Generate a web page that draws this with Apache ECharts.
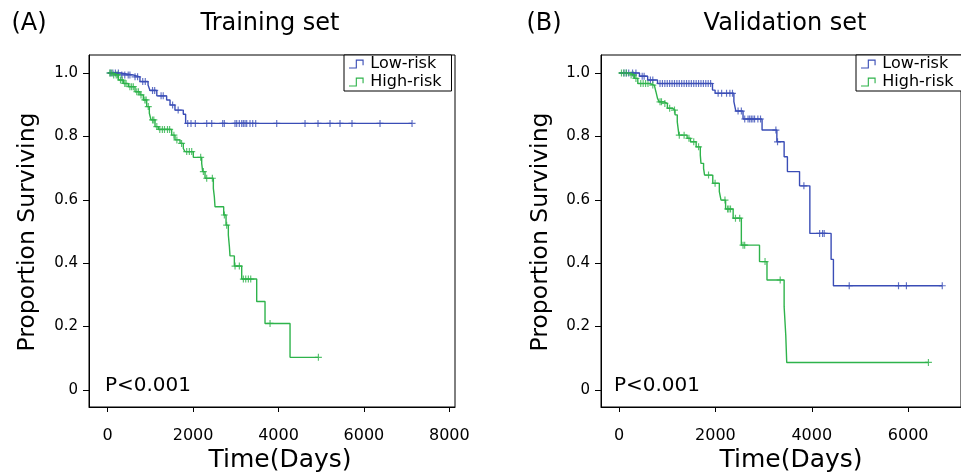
<!DOCTYPE html>
<html>
<head>
<meta charset="utf-8">
<script src="https://cdn.jsdelivr.net/npm/echarts@6/dist/echarts.min.js"></script>
<style>
  html, body { margin: 0; padding: 0; background: #fff; }
  #main { width: 961px; height: 475px; }
</style>
</head>
<body>
<div id="main"></div>
<script>
// survival curves: event times (days) and survival after each step
var trainLowT  = [0, 300, 590, 755, 945, 990, 1150, 1380, 1460, 1575, 1770, 1825];
var trainLowS  = [1.0, 0.994, 0.988, 0.973, 0.962, 0.945, 0.928, 0.915, 0.899, 0.883, 0.870, 0.841];
var trainLowEnd = 7127;
var trainLowCensor = [60, 120, 180, 250, 330, 400, 480, 520, 640, 700, 820, 880, 1050, 1100, 1250, 1300, 1520, 1650,
  1874, 1951, 2052, 2319, 2436, 2693, 2731, 2981, 3021, 3082, 3138, 3176, 3216, 3255, 3332, 3396, 3466, 3958,
  4621, 4925, 5206, 5440, 5721, 6377, 7127];

var trainHighT = [0, 110, 250, 365, 482, 640, 756, 835, 913, 975, 1014, 1108, 1186, 1498, 1576, 1694, 1771, 1810,
  2005, 2201, 2224, 2279, 2474, 2497, 2513, 2716, 2771, 2825, 2850, 2864, 2966, 3138, 3489, 3684, 4270];
var trainHighS = [1.0, 0.994, 0.978, 0.967, 0.957, 0.941, 0.931, 0.915, 0.894, 0.873, 0.852, 0.831, 0.822, 0.804, 0.789, 0.778, 0.762, 0.752,
  0.734, 0.715, 0.689, 0.668, 0.636, 0.610, 0.578, 0.552, 0.520, 0.489, 0.452, 0.423, 0.391, 0.350, 0.279, 0.210, 0.103];
var trainHighEnd = 4934;
var trainHighCensor = [50, 90, 140, 200, 230, 300, 340, 400, 430, 520, 560, 600, 680, 720, 780, 870, 900, 950, 1050, 1080,
  1150, 1220, 1280, 1330, 1400, 1450, 1550, 1620, 1730, 1850, 1912, 1967, 2177, 2240, 2318, 2451, 2732, 2786,
  2982, 3083, 3177, 3232, 3294, 3349, 3802, 4934];

var validLowT = [0, 424, 594, 798, 1939, 1993, 2383, 2424, 2573, 2968, 3275, 3426, 3494, 3746, 3960, 4401, 4449];
var validLowS = [1.0, 0.990, 0.978, 0.967, 0.946, 0.936, 0.910, 0.880, 0.855, 0.820, 0.783, 0.736, 0.689, 0.644, 0.494, 0.412, 0.329];
var validLowEnd = 6708;
var validLowCensor = [100, 150, 200, 280, 350, 480, 520, 650, 700, 850, 900, 950, 1000, 1050, 1100, 1150, 1200, 1250,
  1300, 1350, 1400, 1450, 1500, 1550, 1600, 1650, 1700, 1750, 1800, 1850, 1900, 2056, 2129, 2231, 2300, 2354,
  2470, 2538, 2608, 2677, 2711, 2745, 2779, 2813, 2881, 2936, 3255, 3289, 3836, 4163, 4224, 4258, 4777, 5800, 5964, 6708];

var validHighT = [0, 219, 321, 389, 628, 731, 765, 798, 833, 935, 1003, 1105, 1161, 1208, 1243, 1412, 1482, 1600,
  1686, 1700, 1754, 1775, 1945, 2081, 2116, 2211, 2368, 2538, 2915, 3070, 3426, 3460, 3480];
var validHighS = [1.0, 0.994, 0.983, 0.967, 0.962, 0.957, 0.941, 0.920, 0.909, 0.904, 0.889, 0.883, 0.868, 0.846, 0.804, 0.794, 0.783, 0.767,
  0.741, 0.715, 0.699, 0.678, 0.652, 0.626, 0.599, 0.571, 0.542, 0.457, 0.405, 0.347, 0.263, 0.173, 0.087];
var validHighEnd = 6421;
var validHighCensor = [50, 100, 150, 250, 300, 350, 450, 500, 550, 600, 700, 850, 880, 950, 1050, 1150, 1250, 1350,
  1450, 1550, 1650, 1857, 1993, 2198, 2252, 2279, 2313, 2416, 2504, 2573, 2607, 3030, 3344, 6421];

var yTicks = [0, 0.2, 0.4, 0.6, 0.8, 1.0];
var xTicksTrain = [0, 2000, 4000, 6000, 8000];
var xTicksValid = [0, 2000, 4000, 6000];

var blue = '#3a4db6';
var green = '#2eb34b';
var font = 'DejaVu Sans';
var plus = 'path://M2.5,0H3.5V2.5H6V3.5H3.5V6H2.5V3.5H0V2.5H2.5Z';
var stepIcon = 'path://M0,8H6V1H13V6H12V2H7V9H0Z';

function steps(t, s, end) {
  var out = [];
  for (var i = 0; i < t.length; i++) out.push([t[i], s[i]]);
  out.push([end, s[s.length - 1]]);
  return out;
}

function survAt(t, s, time) {
  var v = s[0];
  for (var i = 0; i < t.length; i++) { if (t[i] <= time) v = s[i]; }
  return v;
}

function censor(t, s, times) {
  return times.map(function (c) { return [c, survAt(t, s, c)]; });
}

function lineSeries(name, color, data, idx) {
  return {
    name: name, type: 'line', step: 'end', data: data,
    xAxisIndex: idx, yAxisIndex: idx, showSymbol: false, color: color,
    lineStyle: { color: color, width: 1.4 }, silent: true
  };
}

function censorSeries(color, data, idx) {
  return {
    name: 'censor', type: 'scatter', data: data, xAxisIndex: idx, yAxisIndex: idx,
    symbol: plus, symbolSize: 7, itemStyle: { color: color }, silent: true
  };
}

function xAxis(idx, min, max, ticks) {
  return {
    type: 'value', gridIndex: idx, min: min, max: max,
    axisLine: { show: true, onZero: false, lineStyle: { color: '#000', width: 1 } },
    axisTick: { show: true, length: 5, customValues: ticks, lineStyle: { color: '#000' } },
    axisLabel: {
      customValues: ticks, margin: 21, color: '#000', fontFamily: font, fontSize: 16,
      formatter: function (v) { return String(v); }
    },
    splitLine: { show: false }
  };
}

function yAxis(idx) {
  return {
    type: 'value', gridIndex: idx, min: -0.0536, max: 1.0568,
    axisLine: { show: true, onZero: false, lineStyle: { color: '#000', width: 1 } },
    axisTick: { show: true, length: 6, customValues: yTicks, lineStyle: { color: '#000' } },
    axisLabel: {
      customValues: yTicks, margin: 11, color: '#000', fontFamily: font, fontSize: 15,
      formatter: function (v) { return v === 0 ? '0' : v.toFixed(1); }
    },
    splitLine: { show: false }
  };
}

function legend(left) {
  return {
    left: left, top: 55, orient: 'vertical',
    data: [{ name: 'Low-risk', icon: stepIcon }, { name: 'High-risk', icon: stepIcon }],
    itemWidth: 18, itemHeight: 9, itemGap: 2,
    padding: [1, 10, 1, 5],
    borderColor: '#000', borderWidth: 1, backgroundColor: '#fff',
    textStyle: { fontFamily: font, fontSize: 16, color: '#000' },
    selectedMode: false
  };
}

function label(text, x, y, size, rot) {
  return {
    type: 'text', x: x, y: y, rotation: rot || 0, silent: true,
    style: { text: text, fill: '#000', font: size + 'px "' + font + '"', textAlign: 'center', textVerticalAlign: 'middle' }
  };
}

var chart = echarts.init(document.getElementById('main'), null, { renderer: 'canvas' });

chart.setOption({
  animation: false,
  backgroundColor: '#fff',
  grid: [
    { left: 89, top: 55, width: 366, height: 352, show: true, borderColor: '#000', borderWidth: 1 },
    { left: 601, top: 55, width: 365, height: 352, show: true, borderColor: '#000', borderWidth: 1 }
  ],
  xAxis: [xAxis(0, -438, 8133, xTicksTrain), xAxis(1, -375, 7097, xTicksValid)],
  yAxis: [yAxis(0), yAxis(1)],
  legend: [legend(344), legend(856)],
  series: [
    lineSeries('Low-risk', blue, steps(trainLowT, trainLowS, trainLowEnd), 0),
    lineSeries('High-risk', green, steps(trainHighT, trainHighS, trainHighEnd), 0),
    censorSeries(blue, censor(trainLowT, trainLowS, trainLowCensor), 0),
    censorSeries(green, censor(trainHighT, trainHighS, trainHighCensor), 0),
    lineSeries('Low-risk', blue, steps(validLowT, validLowS, validLowEnd), 1),
    lineSeries('High-risk', green, steps(validHighT, validHighS, validHighEnd), 1),
    censorSeries(blue, censor(validLowT, validLowS, validLowCensor), 1),
    censorSeries(green, censor(validHighT, validHighS, validHighCensor), 1)
  ],
  graphic: [
    label('(A)', 29, 24, 24),
    label('Training set', 270, 24, 24),
    label('(B)', 544, 24, 24),
    label('Validation set', 785, 24, 24),
    label('P<0.001', 148, 386, 20),
    label('P<0.001', 657, 386, 20),
    label('Time(Days)', 280, 460, 25),
    label('Time(Days)', 791, 460, 25),
    label('Proportion Surviving', 28, 232, 23.5, Math.PI / 2),
    label('Proportion Surviving', 541, 232, 23.5, Math.PI / 2)
  ]
});
</script>
</body>
</html>
